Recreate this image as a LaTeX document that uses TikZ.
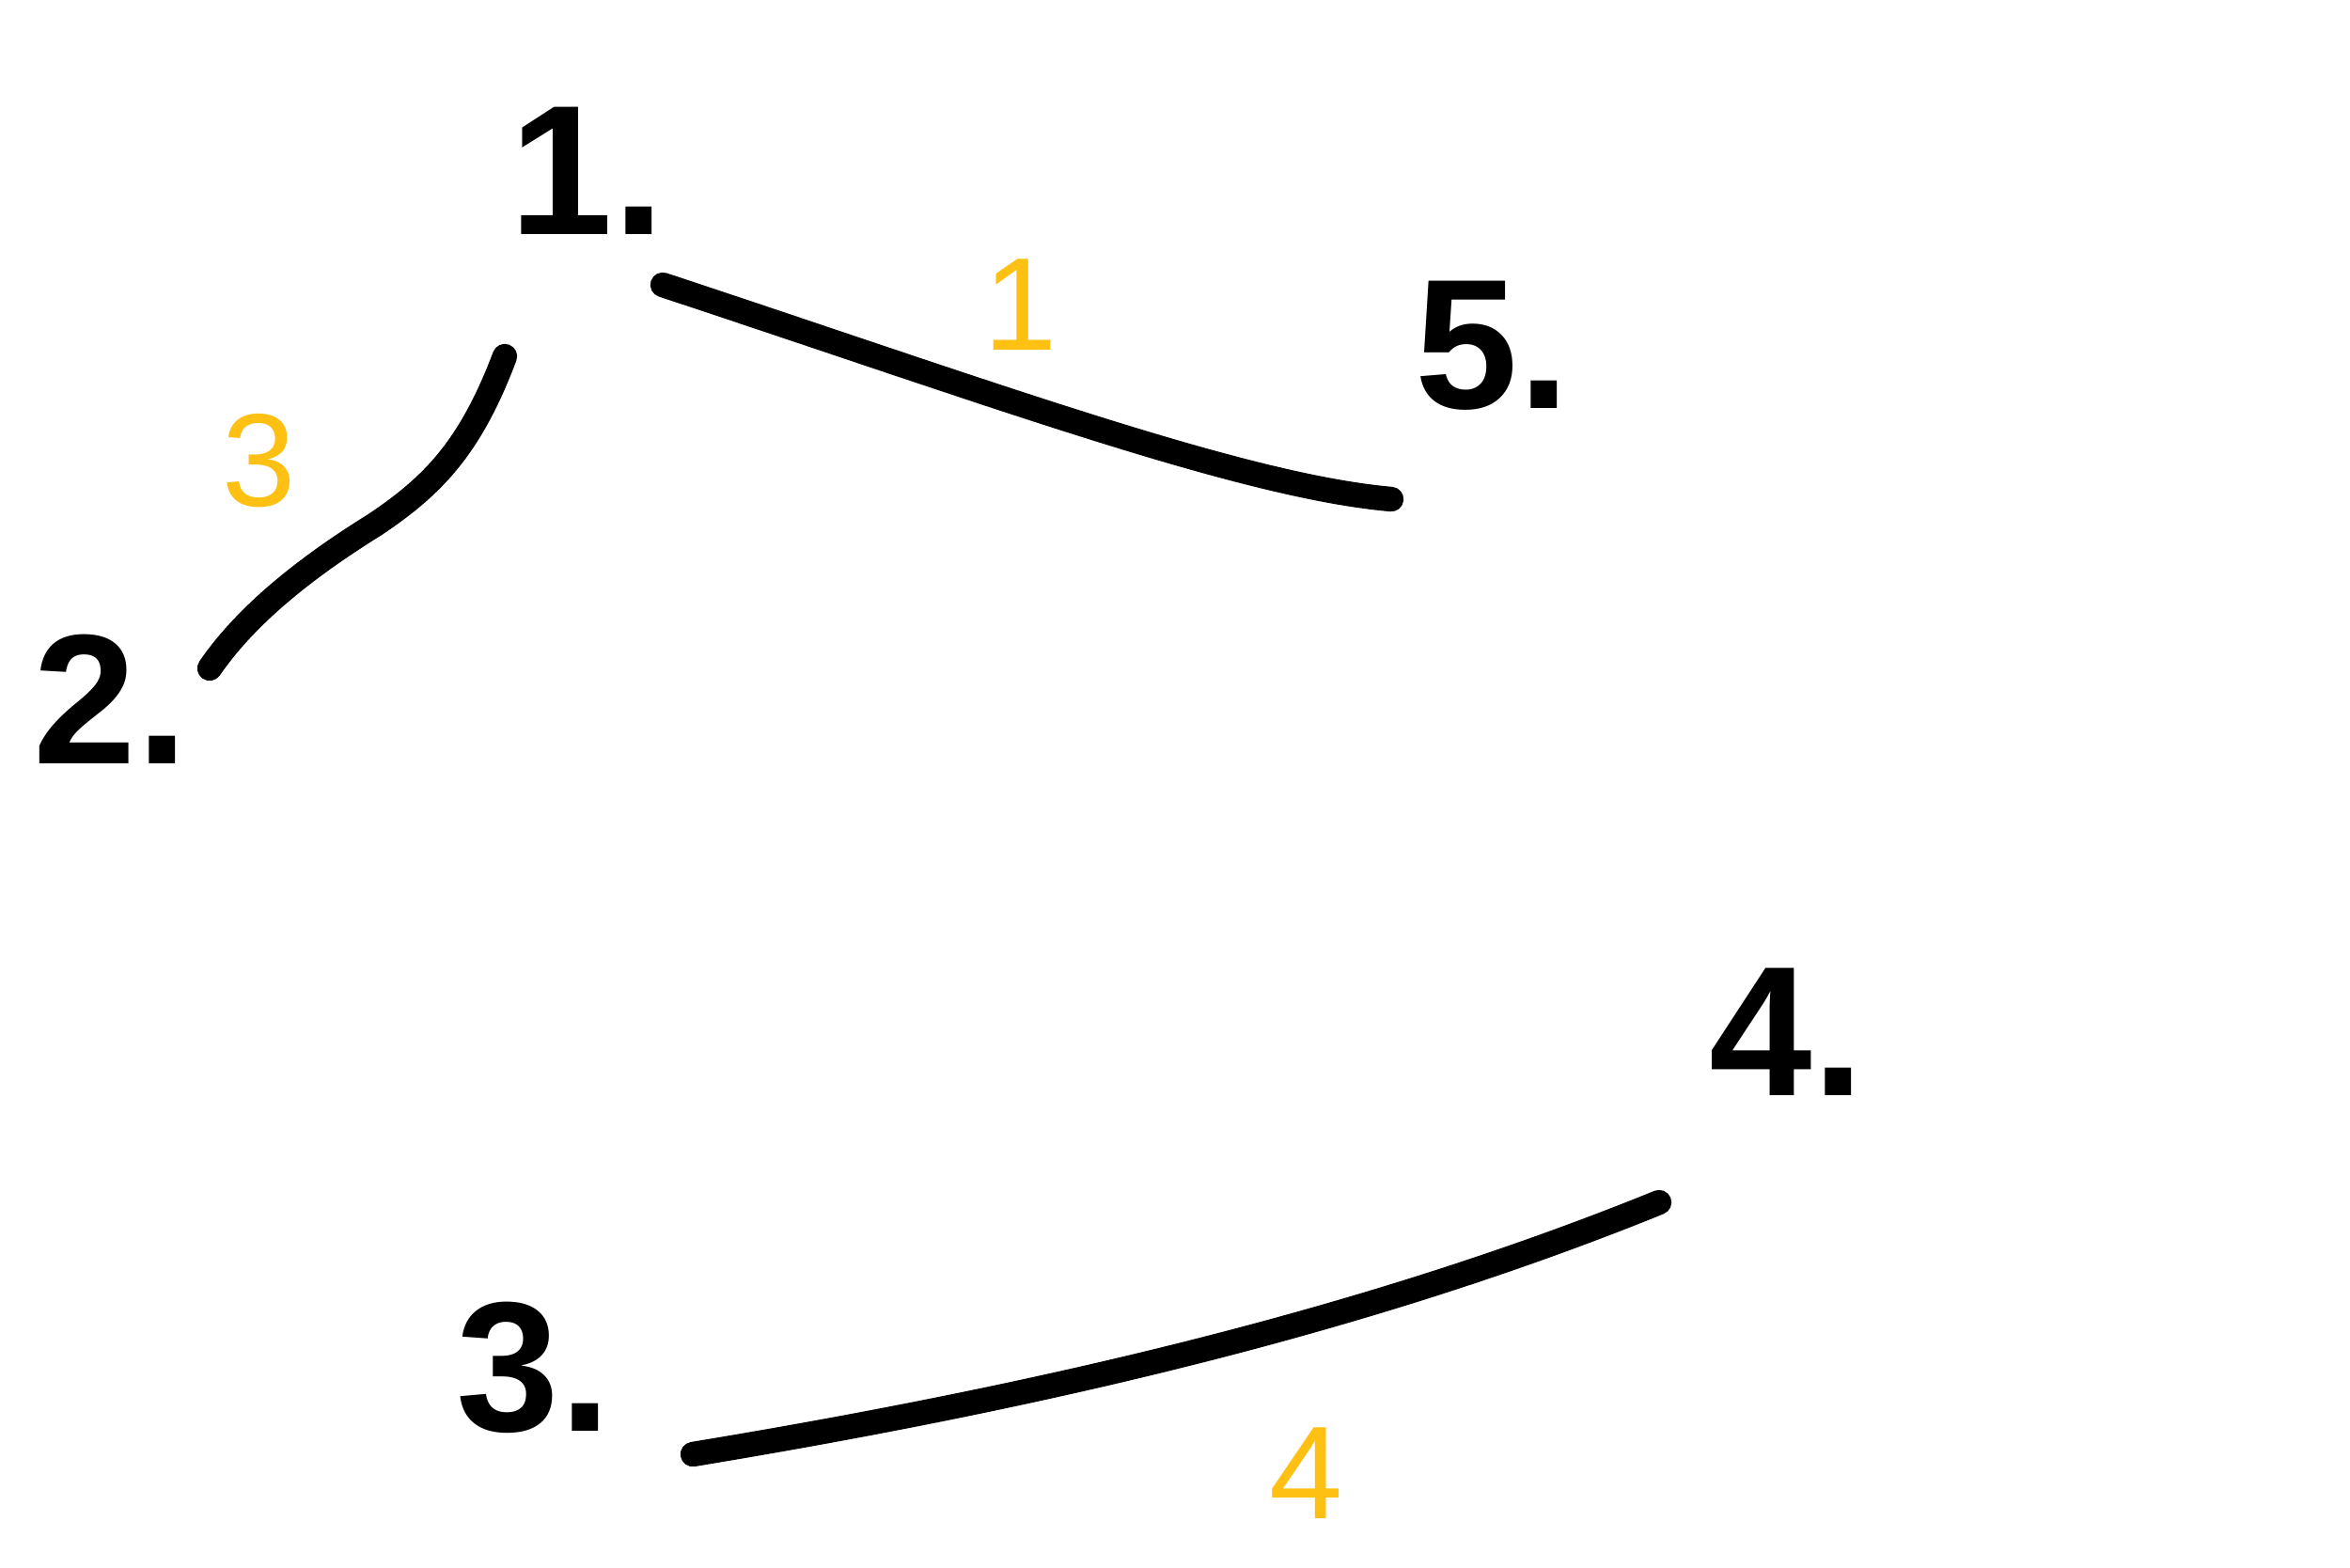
\documentclass[tikz,border=0pt]{standalone}
\usepackage{fontspec}
\setmainfont{Liberation Sans}
\usetikzlibrary{calc}
\definecolor{weightcol}{RGB}{255,192,20}
\begin{document}
\begin{tikzpicture}[
  vertex/.style={inner sep=0pt,font=\fontsize{56}{56}\selectfont\bfseries},
  weight/.style={inner sep=0pt,text=weightcol,font=\fontsize{40}{40}\selectfont},
  edge/.style={line width=7.5pt,line cap=round,line join=round}]
\useasboundingbox (0,0) rectangle (25,16.67);

% Vertices
\node[vertex] (n1) at (6.25,14.85) {1.};
\node[vertex] (n2) at (1.18,9.23) {2.};
\node[vertex] (n5) at (15.88,12.99) {5.};
\node[vertex] (n4) at (19.01,5.69) {4.};
\node[vertex] (n3) at (5.68,2.12) {3.};

% Edges
\draw[edge] ($(n1)+(-0.88,-1.97)$) .. controls (5.0,11.9) and (4.6,11.5) .. (3.99,11.09)
  .. controls (3.2,10.6) and (2.6,10.1) .. ($(n2)+(1.05,0.33)$);
\draw[edge] ($(n1)+(0.80,-1.21)$) .. controls (10.5,12.5) and (13.2,11.5) .. ($(n5)+(-1.08,-1.63)$);
\draw[edge] ($(n3)+(1.69,-0.92)$) .. controls (11,1.8) and (14.5,2.6) .. ($(n4)+(-1.36,-1.81)$);

% Weights
\node[weight] (w12) at (2.76,11.77) {3};
\node[weight] (w15) at (10.86,13.43) {1};
\node[weight] (w34) at (13.90,1.00) {4};
\end{tikzpicture}
\end{document}
